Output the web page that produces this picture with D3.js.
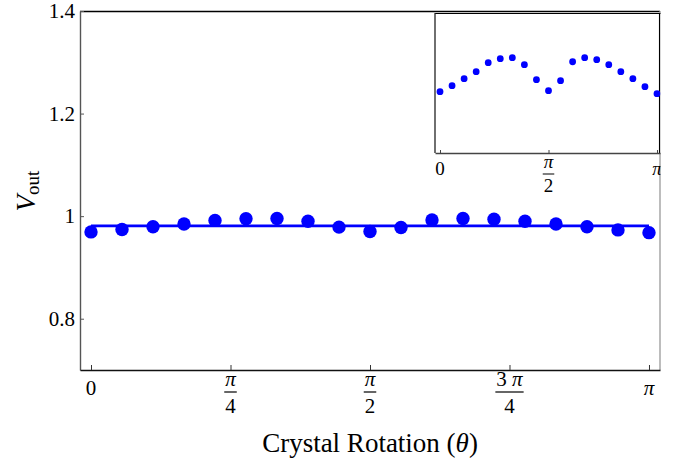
<!DOCTYPE html>
<meta charset="utf-8">
<style>
body { margin: 0; background: #fff; }
svg text { font-family: "Liberation Serif", "Times New Roman", serif; fill: #000; }
</style>
<svg width="691" height="460"></svg>
<script src="https://d3js.org/d3.v7.min.js"></script>
<script>

// crystal rotation angle, degrees (0 .. 180 = 0 .. pi)
var angleDeg = [0, 10, 20, 30, 40, 50, 60, 70, 80, 90, 100, 110, 120, 130, 140, 150, 160, 170, 180];
// measured output voltage
var vout = [0.9693, 0.9739, 0.9793, 0.9847, 0.9917, 0.9948, 0.9955, 0.9901, 0.9786, 0.9701,
            0.9778, 0.9924, 0.9955, 0.9940, 0.9901, 0.9847, 0.9793, 0.9732, 0.9678];
// flat fit drawn through the points
var fitLevel = 0.981;

var yTicks = [0.8, 1, 1.2, 1.4];
var yTickLabels = ["0.8", "1", "1.2", "1.4"];

// x ticks in units of pi, label as numerator / denominator
var xTicks = [0, 0.25, 0.5, 0.75, 1];
var xTickNum = ["0", "\u03c0", "\u03c0", "3 \u03c0", "\u03c0"];
var xTickDen = ["", "4", "2", "4", ""];

var insetTicks = [0, 0.5, 1];
var insetTickNum = ["0", "\u03c0", "\u03c0"];
var insetTickDen = ["", "2", ""];

var svg = d3.select("svg");
var PI = Math.PI;
var rad = function(d) { return d * PI / 180; };

var x = d3.scaleLinear().domain([-0.062, PI + 0.062]).range([80, 660]);
var y = d3.scaleLinear().domain([0.7, 1.4]).range([370, 11]);

var blue = "#0000ff";

// frame
var frame = svg.append("g");
frame.append("line").attr("x1", 80).attr("x2", 660).attr("y1", 11.5).attr("y2", 11.5)
    .attr("stroke", "#000").attr("stroke-width", 1.3);
frame.append("line").attr("x1", 660).attr("x2", 660).attr("y1", 11).attr("y2", 370)
    .attr("stroke", "#999").attr("stroke-width", 1.3);

var yAxis = svg.append("g")
    .attr("transform", "translate(80,0)")
    .call(d3.axisLeft(y).tickValues(yTicks)
        .tickFormat(function(d, i) { return yTickLabels[i]; })
        .tickSizeInner(-4).tickSizeOuter(0).tickPadding(5));
yAxis.select(".domain").attr("stroke", "#555").attr("stroke-width", 1.4);
yAxis.selectAll(".tick line").attr("stroke", "#555");
yAxis.selectAll("text").attr("font-family", "Liberation Serif").attr("font-size", 21).attr("fill", "#000");

var xAxis = svg.append("g")
    .attr("transform", "translate(0,370)")
    .call(d3.axisBottom(x).tickValues(xTicks.map(function(t) { return t * PI; }))
        .tickFormat("").tickSizeInner(-5).tickSizeOuter(0));
xAxis.select(".domain").attr("stroke", "#111").attr("stroke-width", 1.4);
xAxis.selectAll(".tick line").attr("stroke", "#333");

// writes a label, setting pi in italics
function putLabel(t, s) {
  s.split(/(\u03c0)/).forEach(function(part) {
    if (part === "") return;
    var ts = t.append("tspan").text(part);
    if (part === "\u03c0") ts.attr("font-style", "italic");
  });
  return t;
}

// fraction tick labels
function fracLabels(g, scale, ticks, num, den, o) {
  ticks.forEach(function(t, i) {
    var cx = scale(t * PI);
    if (den[i] === "") {
      putLabel(g.append("text").attr("x", cx).attr("y", o.single).attr("text-anchor", "middle")
        .attr("font-size", o.size), num[i]);
    } else {
      var n = putLabel(g.append("text").attr("x", cx).attr("y", o.num).attr("text-anchor", "middle")
        .attr("font-size", o.size), num[i]);
      var w = n.node().getComputedTextLength();
      g.append("line").attr("x1", cx - w / 2 - 1).attr("x2", cx + w / 2 + 1)
        .attr("y1", o.bar).attr("y2", o.bar).attr("stroke", "#000").attr("stroke-width", 1.2);
      g.append("text").attr("x", cx).attr("y", o.den).attr("text-anchor", "middle")
        .attr("font-size", o.size).text(den[i]);
    }
  });
}
fracLabels(svg.append("g"), x, xTicks, xTickNum, xTickDen,
  {size: 21, single: 395, num: 386, bar: 392, den: 413});

// axis titles
svg.append("text").attr("x", 370).attr("y", 452).attr("text-anchor", "middle")
    .attr("font-size", 27)
    .html('Crystal Rotation (<tspan font-style="italic">\u03b8</tspan>)');

var yl = svg.append("text").attr("transform", "translate(35,191) rotate(-90)")
    .attr("text-anchor", "middle").attr("font-size", 27);
yl.append("tspan").attr("font-style", "italic").text("V");
yl.append("tspan").attr("font-size", 19).attr("dy", 4).text("out");

// fit line + points
svg.append("line")
    .attr("x1", x(0)).attr("x2", x(PI))
    .attr("y1", y(fitLevel)).attr("y2", y(fitLevel))
    .attr("stroke", blue).attr("stroke-width", 2.6);

svg.append("g").selectAll("circle")
  .data(vout)
  .join("circle")
    .attr("cx", function(d, i) { return x(rad(angleDeg[i])); })
    .attr("cy", function(d) { return y(d); })
    .attr("r", 6.7)
    .attr("fill", blue);

// inset
svg.append("clipPath").attr("id", "insetClip")
  .append("rect").attr("x", 425).attr("y", 0).attr("width", 235.5).attr("height", 210);

var ix = d3.scaleLinear().domain([-0.0724, PI + 0.0724]).range([435, 662]);
var iy = d3.scaleLinear().domain([0.922, 1.030]).range([153, 13]);

var inset = svg.append("g").attr("clip-path", "url(#insetClip)");
inset.append("rect").attr("x", 435).attr("y", 13).attr("width", 227).attr("height", 140)
    .attr("fill", "#fff").attr("stroke", "none");
inset.append("line").attr("x1", 435).attr("x2", 662).attr("y1", 13.5).attr("y2", 13.5)
    .attr("stroke", "#000").attr("stroke-width", 1.1);
inset.append("line").attr("x1", 659.5).attr("x2", 659.5).attr("y1", 13).attr("y2", 153)
    .attr("stroke", "#000").attr("stroke-width", 1.1);
inset.append("line").attr("x1", 435).attr("x2", 435).attr("y1", 13).attr("y2", 153)
    .attr("stroke", "#222").attr("stroke-width", 1.3);

var ixAxis = inset.append("g")
    .attr("transform", "translate(0,153)")
    .call(d3.axisBottom(ix).tickValues(insetTicks.map(function(t) { return t * PI; }))
        .tickFormat("").tickSizeInner(-3).tickSizeOuter(0));
ixAxis.select(".domain").attr("stroke", "#444").attr("stroke-width", 1.3);
ixAxis.selectAll(".tick line").attr("stroke", "#444");

fracLabels(inset.append("g"), ix, insetTicks, insetTickNum, insetTickDen,
  {size: 19, single: 175, num: 168, bar: 174, den: 192});

inset.append("g").selectAll("circle")
  .data(vout)
  .join("circle")
    .attr("cx", function(d, i) { return ix(rad(angleDeg[i])); })
    .attr("cy", function(d) { return iy(d); })
    .attr("r", 3.4)
    .attr("fill", blue);

</script>
